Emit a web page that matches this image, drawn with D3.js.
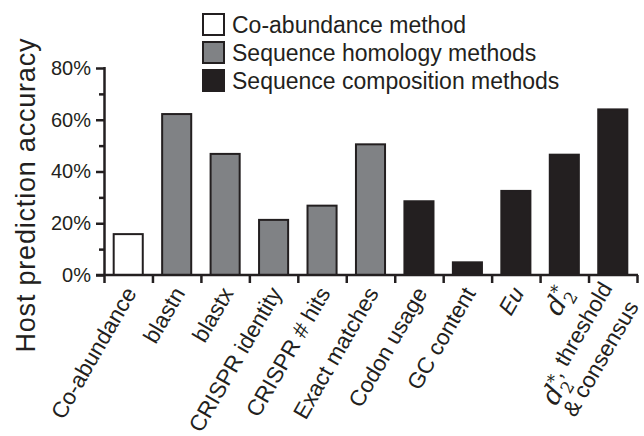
<!DOCTYPE html>
<html>
<head>
<meta charset="utf-8">
<script src="https://cdn.jsdelivr.net/npm/d3@7"></script>
<style>
  html, body { margin: 0; padding: 0; background: #fff; }
  svg { display: block; font-family: "Liberation Sans", Arial, Helvetica, sans-serif; }
</style>
</head>
<body>
<svg id="chart" width="644" height="436"></svg>
<script>
/* ---------- data ------------------------------------------------ */
const categories = ["Co-abundance", "blastn", "blastx", "CRISPR identity", "CRISPR # hits",
                    "Exact matches", "Codon usage", "GC content", "Eu", "d2*", "d2*, threshold & consensus"];
const accuracy   = [15.8, 62.2, 46.8, 21.3, 26.8, 50.5, 28.5, 4.9, 32.5, 46.5, 64.0];
const groups     = ["co", "hom", "hom", "hom", "hom", "hom", "comp", "comp", "comp", "comp", "comp"];
const groupNames = ["Co-abundance method", "Sequence homology methods", "Sequence composition methods"];
const groupKeys  = ["co", "hom", "comp"];
const yTicks     = [0, 20, 40, 60, 80];

const ink = "#231f20";
const colour = d3.scaleOrdinal().domain(groupKeys).range(["#ffffff", "#808285", "#231f20"]);

/* ---------- layout ---------------------------------------------- */
const svg = d3.select("#chart");
const margin = {top: 68, left: 104, bottom: 161, right: 7};
const W = 644, H = 436;
const plotBottom = H - margin.bottom;   // 275

const x = d3.scaleBand()
    .domain(categories)
    .range([margin.left, W - margin.right])
    .paddingInner(0.4).paddingOuter(0.2);
const bandStep = x.step();

const y = d3.scaleLinear().domain([0, 80]).range([plotBottom, margin.top]);

/* ---------- bars ------------------------------------------------- */
svg.append("g")
  .selectAll("rect")
  .data(categories)
  .join("rect")
    .attr("x", d => x(d))
    .attr("width", x.bandwidth())
    .attr("y", (d, i) => y(accuracy[i]))
    .attr("height", (d, i) => plotBottom - y(accuracy[i]))
    .attr("fill", (d, i) => colour(groups[i]))
    .attr("stroke", ink)
    .attr("stroke-width", 2);

/* ---------- y axis ----------------------------------------------- */
const yAxis = svg.append("g")
    .attr("transform", `translate(${margin.left},0)`);
yAxis.call(d3.axisLeft(y).tickValues(d3.range(10, 80, 20)).tickSize(5).tickFormat(""));
yAxis.call(g => g.select(".domain").remove());
const yMajor = svg.append("g")
    .attr("transform", `translate(${margin.left},0)`)
    .call(d3.axisLeft(y).tickValues(yTicks).tickSize(8).tickPadding(5).tickFormat(d => d + "%"));
yMajor.select(".domain").attr("stroke", ink).attr("stroke-width", 2.5).attr("d", `M0.5,${margin.top - 1}V${plotBottom}`);
svg.selectAll(".tick line").attr("stroke", ink).attr("stroke-width", 2.5);
yMajor.selectAll("text").attr("font-size", 20).attr("fill", ink).attr("font-family", "Liberation Sans, Arial, sans-serif");

/* ---------- x axis ----------------------------------------------- */
const xAxis = svg.append("g");
xAxis.append("line")
    .attr("x1", margin.left - 8).attr("x2", W - margin.right + 1)
    .attr("y1", plotBottom).attr("y2", plotBottom)
    .attr("stroke", ink).attr("stroke-width", 2.5);
xAxis.selectAll(".sep")
  .data(d3.range(categories.length + 1))
  .join("line")
    .attr("class", "sep")
    .attr("x1", i => margin.left + 0.5 + i * bandStep)
    .attr("x2", i => margin.left + 0.5 + i * bandStep)
    .attr("y1", plotBottom).attr("y2", plotBottom + 8)
    .attr("stroke", ink).attr("stroke-width", 2.5);

/* ---------- x labels (rotated) ----------------------------------- */
const angle = -60;
const labelSize = 22.5;
const addD2 = (t) => {
  t.append("tspan").attr("font-family", "DejaVu Serif, serif").attr("font-style", "italic").attr("font-size", "1.2em").text("d");
  t.append("tspan").attr("font-family", "DejaVu Serif, serif").attr("font-size", "0.75em").attr("dy", "0.35em").text("2");
  t.append("tspan").attr("font-family", "DejaVu Serif, serif").attr("font-size", "0.75em").attr("dx", "-0.6em").attr("dy", "-0.95em").text("*");
  t.append("tspan").attr("dy", "0.45em").text("");
};

categories.forEach((c, i) => {
  const g = svg.append("g")
      .attr("transform", `translate(${x(c) + x.bandwidth() / 2 + 9},293) rotate(${angle})`);
  const t = g.append("text")
      .attr("text-anchor", "end")
      .attr("font-size", labelSize)
      .attr("fill", ink);
  if (c === "Eu") {
    t.attr("font-style", "italic").text(c);
  } else if (c === "d2*") {
    addD2(t);
  } else if (c.startsWith("d2*,")) {
    addD2(t);
    t.append("tspan").text(", threshold");
    g.append("text")
      .attr("text-anchor", "end")
      .attr("font-size", labelSize)
      .attr("fill", ink)
      .attr("y", 22)
      .attr("x", -3)
      .text("& consensus");
  } else {
    t.text(c);
  }
});

/* ---------- y title ---------------------------------------------- */
svg.append("text")
    .attr("transform", `translate(35,195.5) rotate(-90)`)
    .attr("text-anchor", "middle")
    .attr("font-size", 27)
    .attr("textLength", 314)
    .attr("lengthAdjust", "spacing")
    .attr("fill", ink)
    .text("Host prediction accuracy");

/* ---------- legend ----------------------------------------------- */
const legend = svg.append("g").attr("transform", "translate(203,14)");
const li = legend.selectAll("g")
  .data(groupKeys)
  .join("g")
    .attr("transform", (d, i) => `translate(0,${i * 28})`);
li.append("rect")
    .attr("width", 21).attr("height", 21)
    .attr("fill", d => colour(d))
    .attr("stroke", ink).attr("stroke-width", 2);
li.append("text")
    .attr("x", 29).attr("y", 19)
    .attr("font-size", 23)
    .attr("fill", ink)
    .text((d, i) => groupNames[i]);
</script>
</body>
</html>
